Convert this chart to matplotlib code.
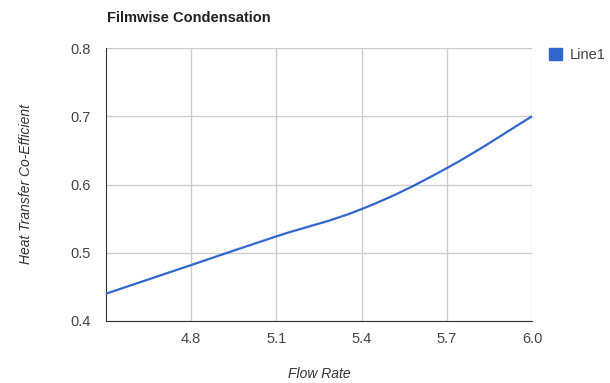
"""Filmwise Condensation: heat transfer coefficient vs flow rate."""

import numpy as np
import matplotlib
matplotlib.use("Agg")
import matplotlib.pyplot as plt
from matplotlib.path import Path
from matplotlib.patches import PathPatch, Patch

plt.rcParams["font.family"] = ["Liberation Sans", "DejaVu Sans"]

# ---------------------------------------------------------------------------
# data
# ---------------------------------------------------------------------------
flow_rate = [4.5, 4.8, 5.1, 5.4, 5.7, 6.0]
heat_coeff = [0.44, 0.482, 0.524, 0.564, 0.624, 0.70]
x_ticks = [4.8, 5.1, 5.4, 5.7, 6.0]
y_ticks = [0.4, 0.5, 0.6, 0.7, 0.8]

LINE_COLOR = "#3366cc"
GRID_COLOR = "#cccccc"
TEXT_COLOR = "#444444"


def smooth_path(x, y, tension=0.5):
    """Cubic Bezier path through the points (Catmull-Rom style tangents)."""
    x = np.asarray(x, float)
    y = np.asarray(y, float)
    n = len(x)
    verts = [(x[0], y[0])]
    codes = [Path.MOVETO]
    for i in range(n - 1):
        x0, y0 = (x[i - 1], y[i - 1]) if i > 0 else (x[i], y[i])
        x3, y3 = (x[i + 2], y[i + 2]) if i + 2 < n else (x[i + 1], y[i + 1])
        c1 = (x[i] + (x[i + 1] - x0) * tension / 3,
              y[i] + (y[i + 1] - y0) * tension / 3)
        c2 = (x[i + 1] - (x3 - x[i]) * tension / 3,
              y[i + 1] - (y3 - y[i]) * tension / 3)
        verts += [c1, c2, (x[i + 1], y[i + 1])]
        codes += [Path.CURVE4] * 3
    return Path(verts, codes)


fig = plt.figure(figsize=(6.1, 3.83), dpi=100)
ax = fig.add_axes([106 / 610, 1 - 321 / 383, 426 / 610, 273 / 383])

ax.add_patch(PathPatch(smooth_path(flow_rate, heat_coeff, tension=0.6),
                       facecolor="none", edgecolor=LINE_COLOR,
                       linewidth=1.6, zorder=3, clip_on=False))

ax.set_xlim(flow_rate[0], flow_rate[-1])
ax.set_ylim(y_ticks[0], y_ticks[-1])
ax.set_xticks(x_ticks)
ax.set_xticklabels([f"{v:.1f}" for v in x_ticks])
ax.set_yticks(y_ticks)
ax.set_yticklabels([f"{v:.1f}" for v in y_ticks])

ax.grid(True, color=GRID_COLOR, linewidth=1.0)
ax.set_axisbelow(True)
for side in ("top", "right"):
    ax.spines[side].set_visible(False)
ax.spines["left"].set_color("#333333")
ax.spines["bottom"].set_color("#333333")
ax.tick_params(length=0, colors=TEXT_COLOR, labelsize=10.5, pad=8)
ax.tick_params(axis="y", pad=11)

ax.set_xlabel("Flow Rate", style="italic", color="#333333", fontsize=10,
              labelpad=15)
ax.set_ylabel("Heat Transfer Co-Efficient", style="italic", color="#333333",
              fontsize=10, labelpad=27)

fig.text(107 / 610, 1 - 18 / 383, "Filmwise Condensation", fontsize=10.5,
         fontweight="bold", color="#222222", va="center", ha="left")

handle = Patch(facecolor=LINE_COLOR, edgecolor=LINE_COLOR, label="Line1")
fig.legend(handles=[handle], loc="upper left",
           bbox_to_anchor=(549 / 610, 1 - 48 / 383), frameon=False,
           fontsize=10.5, handlelength=0.9, handleheight=0.9,
           handletextpad=0.5, borderaxespad=0, borderpad=0,
           labelcolor=TEXT_COLOR)

fig.savefig("out.png", dpi=100)
